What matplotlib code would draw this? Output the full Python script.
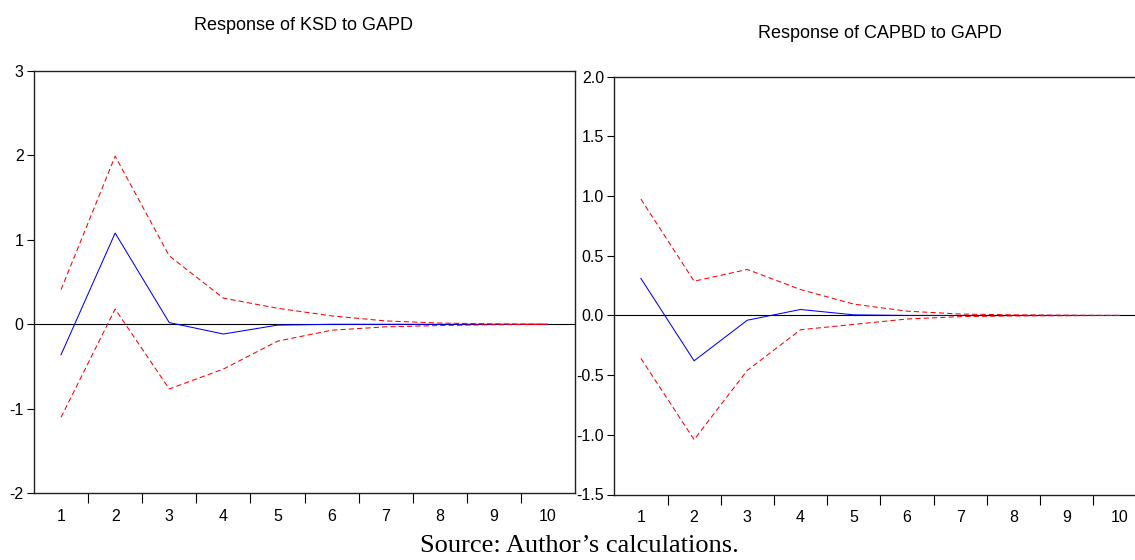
import matplotlib
matplotlib.use("Agg")
import matplotlib.pyplot as plt
import numpy as np

periods = list(range(1, 11))

ksd_resp = [-0.36, 1.08, 0.02, -0.115, -0.01, 0.0, 0.0, 0.0, 0.0, 0.0]
ksd_upper = [0.41, 1.99, 0.81, 0.31, 0.19, 0.10, 0.04, 0.015, 0.005, 0.0]
ksd_lower = [-1.10, 0.18, -0.765, -0.53, -0.20, -0.07, -0.03, -0.015, -0.005, 0.0]

capbd_resp = [0.31, -0.38, -0.04, 0.05, 0.005, 0.0, 0.0, 0.0, 0.0, 0.0]
capbd_upper = [0.975, 0.287, 0.385, 0.217, 0.095, 0.036, 0.012, 0.005, 0.002, 0.0]
capbd_lower = [-0.36, -1.04, -0.46, -0.12, -0.075, -0.03, -0.01, -0.004, -0.002, 0.0]

ksd_yticks = [-2, -1, 0, 1, 2, 3]
ksd_ylabels = ["-2", "-1", "0", "1", "2", "3"]
capbd_yticks = [-1.5, -1.0, -0.5, 0.0, 0.5, 1.0, 1.5, 2.0]
capbd_ylabels = ["-1.5", "-1.0", "-0.5", "0.0", "0.5", "1.0", "1.5", "2.0"]

titles = ["Response of KSD to GAPD", "Response of CAPBD to GAPD"]
source = "Source: Author\u2019s calculations."

plt.rcParams['font.family'] = ['Liberation Sans', 'DejaVu Sans']

W, H = 1135, 560
fig = plt.figure(figsize=(W / 100, H / 100), dpi=100)

def px_axes(x0, x1, ytop, ybot):
    return fig.add_axes([x0 / W, 1 - ybot / H, (x1 - x0) / W, (ybot - ytop) / H])

ax1 = px_axes(34, 575, 70.8, 493.3)
ax2 = px_axes(614.3, 614.3 + 532, 76.7, 494.5)

def style(ax, resp, up, lo, yticks, ylabels, ylim, title, title_x, title_y):
    ax.plot(periods, resp, color='#0000ff', lw=0.75)
    ax.plot(periods, up, color='#ff0000', lw=0.75, dashes=(5, 3))
    ax.plot(periods, lo, color='#ff0000', lw=0.75, dashes=(5, 3))
    ax.axhline(0, color='black', lw=0.8, zorder=1)
    ax.set_xlim(0.5, 10.5)
    ax.set_ylim(*ylim)
    ax.set_yticks(yticks)
    ax.set_yticklabels(ylabels)
    ax.set_xticks(periods)
    ax.set_xticklabels([str(p) for p in periods])
    ax.set_xticks(np.arange(1.5, 10.5, 1.0), minor=True)
    ax.tick_params(axis='x', which='major', length=0, pad=11, labelsize=11.5)
    ax.tick_params(axis='x', which='minor', length=7, width=0.8, direction='out')
    ax.tick_params(axis='y', which='major', length=5, width=0.8, direction='out', pad=2.5, labelsize=11.5)
    for s in ax.spines.values():
        s.set_linewidth(1.0)
        s.set_color('#222222')
    fig.text(title_x, title_y, title, ha='center', va='center', fontsize=13)

style(ax1, ksd_resp, ksd_upper, ksd_lower, ksd_yticks, ksd_ylabels, (-2, 3),
      titles[0], 304 / W, 1 - 25 / H)
style(ax2, capbd_resp, capbd_upper, capbd_lower, capbd_yticks, capbd_ylabels, (-1.5, 2.0),
      titles[1], 880 / W, 1 - 33 / H)

fig.text(579 / W, 1 - 546 / H, source, ha='center', va='center',
         fontsize=19, family=['Liberation Serif', 'DejaVu Serif'])

fig.savefig('out.png', dpi=100)
